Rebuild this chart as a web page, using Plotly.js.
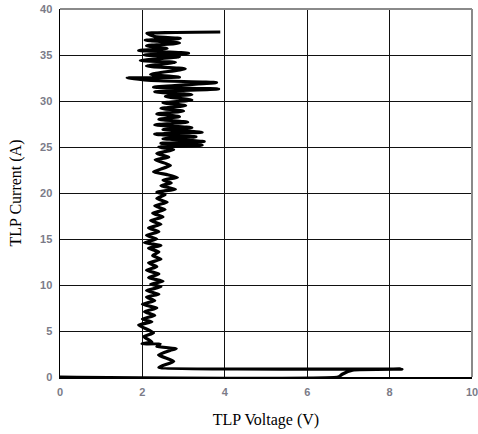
<!DOCTYPE html>
<html>
<head>
<meta charset="utf-8">
<script src="https://cdn.plot.ly/plotly-3.0.1.min.js"></script>
<style>html,body{margin:0;padding:0;background:#fff;}#chart{width:478px;height:434px;}</style>
</head>
<body>
<div id="chart"></div>
<script>
// TLP I-V curve (in drawing order)
const voltage = [
  0.0, 6.75, 6.85, 7.1, 8.3, 2.4,
  2.76, 2.39, 2.68, 2.82, 2.35, 2.43, 1.99, 2.23, 2.03, 2.27, 1.91, 2.23,
  2.0, 2.3, 2.05, 2.35, 2.0, 2.3, 2.1, 2.4, 2.1, 2.45, 2.2, 2.5, 2.15, 2.4, 2.1, 2.35, 2.15, 2.45, 2.25, 2.4,
  2.15, 2.45, 2.05, 2.35, 2.1, 2.4, 2.15, 2.45, 2.2, 2.5, 2.25, 2.55, 2.3, 2.6, 2.35, 2.55, 2.35, 2.8, 2.45, 2.7, 2.5, 2.85, 2.6,
  2.27, 2.68, 2.31, 2.64, 2.35, 2.76,
  2.4, 3.45, 2.45, 3.5, 2.5, 3.3, 2.3, 3.45, 2.5, 3.2, 2.3, 3.1, 2.4, 2.9, 2.35, 3.0, 2.45, 3.05, 2.5, 3.2,
  2.56, 3.2, 2.3, 3.85, 2.27, 3.8, 2.4, 1.63, 2.9, 2.2, 3.04, 2.1, 2.8, 1.95, 2.9, 2.05, 3.12, 1.91, 2.6, 2.1, 2.9, 2.07, 2.92, 2.3, 2.11, 3.89
];
const current = [
  0.0, 0.0, 0.3, 0.75, 0.85, 1.05,
  1.7, 2.4, 2.9, 3.1, 3.3, 3.6, 3.6, 3.8, 4.4, 4.8, 5.65, 6.0,
  6.3, 6.7, 7.1, 7.5, 7.9, 8.3, 8.7, 9.0, 9.4, 9.8, 10.1, 10.4, 10.8, 11.2, 11.6, 12.0, 12.4, 12.8, 13.2, 13.6,
  14.0, 14.3, 14.6, 15.0, 15.4, 15.8, 16.2, 16.6, 17.0, 17.4, 17.8, 18.2, 18.6, 19.0, 19.4, 19.8, 20.1, 20.4, 20.8, 21.1, 21.4, 21.7, 22.0,
  22.3, 23.0, 23.6, 23.9, 24.3, 24.7,
  25.0, 25.2, 25.4, 25.6, 25.9, 26.1, 26.4, 26.6, 26.9, 27.1, 27.4, 27.7, 28.0, 28.3, 28.6, 28.9, 29.2, 29.5, 29.8, 30.1,
  30.5, 30.7, 31.0, 31.3, 31.5, 32.0, 32.2, 32.5, 32.6, 32.9, 33.5, 33.8, 34.2, 34.4, 34.8, 35.0, 35.2, 35.5, 35.7, 36.0, 36.3, 36.6, 36.8, 37.0, 37.35, 37.5
];
const xTicks = [0, 2, 4, 6, 8, 10];
const yTicks = [0, 5, 10, 15, 20, 25, 30, 35, 40];

const tickFont = {family: 'Liberation Sans, Arial, sans-serif', size: 11, color: '#7b7b88', weight: 'bold'};
const titleFont = {family: 'Liberation Serif, Times New Roman, serif', size: 16, color: '#000'};

const trace = {
  x: voltage, y: current, type: 'scatter', mode: 'lines',
  line: {color: '#000', width: 3.2, shape: 'spline', smoothing: 0.4},
  hoverinfo: 'skip'
};

const layout = {
  width: 478, height: 434,
  margin: {l: 60, r: 6, t: 9, b: 57},
  paper_bgcolor: '#fff', plot_bgcolor: '#fff',
  showlegend: false,
  xaxis: {
    range: [0, 10], tickvals: xTicks, ticktext: xTicks.map(String),
    showgrid: true, gridcolor: '#111', gridwidth: 1,
    zeroline: false, showline: true, linecolor: '#000', linewidth: 2,
    ticks: 'outside', ticklen: 4, tickcolor: 'rgba(0,0,0,0)',
    ticklabeloverflow: 'allow',
    tickfont: tickFont,
    title: {text: 'TLP Voltage (V)', font: titleFont, standoff: 17}
  },
  yaxis: {
    range: [0, 40], tickvals: yTicks, ticktext: yTicks.map(String),
    showgrid: true, gridcolor: '#111', gridwidth: 1,
    zeroline: false, showline: true, linecolor: '#000', linewidth: 1.5,
    ticks: 'outside', ticklen: 4, tickcolor: 'rgba(0,0,0,0)',
    ticklabeloverflow: 'allow',
    tickfont: tickFont,
    title: {text: 'TLP Current (A)', font: titleFont, standoff: 14}
  },
  shapes: [
    {type: 'line', xref: 'paper', yref: 'paper', x0: 0, x1: 1, y0: 1, y1: 1, line: {color: '#8a8a8a', width: 2}},
    {type: 'line', xref: 'paper', yref: 'paper', x0: 1, x1: 1, y0: 0, y1: 1, line: {color: '#8a8a8a', width: 2}}
  ]
};

Plotly.newPlot('chart', [trace], layout, {staticPlot: true, displayModeBar: false});
</script>
</body>
</html>
